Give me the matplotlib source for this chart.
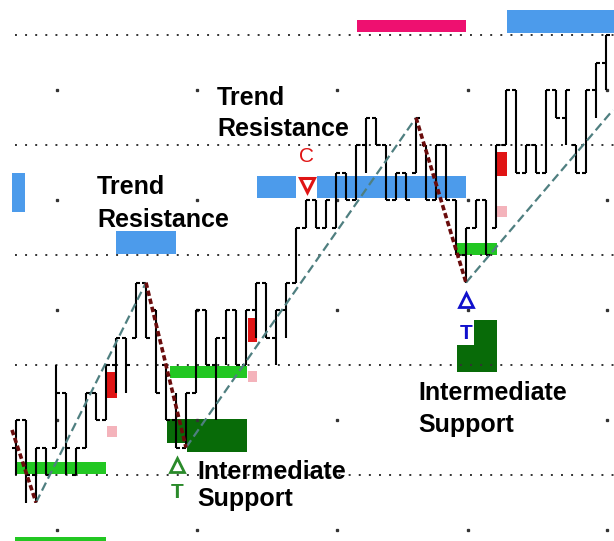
import numpy as np
import matplotlib.pyplot as plt
from matplotlib.patches import Rectangle

# OHLC bars (prices move in steps of 2.5)
highs = [15, 15, 12.5, 12.5, 20, 17.5, 12.5, 17.5, 17.5, 20,
         22.5, 22.5, 27.5, 27.5, 25, 20, 17.5, 17.5, 25, 25,
         22.5, 25, 25, 25, 27.5, 27.5, 25, 27.5, 32.5, 35,
         35, 35, 37.5, 37.5, 40, 42.5, 42.5, 40, 37.5, 37.5,
         42.5, 40, 40, 40, 35, 32.5, 35, 35, 40, 45,
         45, 40, 40, 45, 45, 45, 40, 45, 47.5, 50]
lows = [10, 7.5, 7.5, 10, 12.5, 10, 10, 12.5, 15, 15,
        17.5, 17.5, 22.5, 22.5, 17.5, 15, 12.5, 12.5, 17.5, 20,
        15, 20, 20, 20, 22.5, 22.5, 20, 22.5, 27.5, 32.5,
        32.5, 32.5, 32.5, 35, 35, 37.5, 40, 35, 35, 35,
        37.5, 35, 35, 35, 30, 27.5, 32.5, 30, 32.5, 40,
        37.5, 37.5, 37.5, 37.5, 42.5, 40, 37.5, 37.5, 42.5, 45]
opens = [12.5, 15, 10, 12.5, 12.5, 17.5, 10, 12.5, 17.5, 15,
         20, 22.5, 22.5, 27.5, 25, 20, 15, 12.5, 17.5, 25,
         20, 22.5, 25, 20, 25, 27.5, 22.5, 25, 27.5, 32.5,
         35, 32.5, 32.5, 37.5, 35, 40, 42.5, 40, 35, 37.5,
         37.5, 40, 35, 40, 35, 30, 32.5, 35, 32.5, 40,
         45, 37.5, 40, 37.5, 45, 42.5, 40, 37.5, 45, 47.5]
closes = [15, 10, 12.5, 10, 17.5, 12.5, 12.5, 17.5, 15, 20,
          22.5, 20, 27.5, 22.5, 17.5, 15, 12.5, 17.5, 25, 20,
          22.5, 25, 20, 25, 27.5, 22.5, 25, 27.5, 32.5, 35,
          32.5, 35, 37.5, 35, 40, 42.5, 40, 35, 37.5, 35,
          42.5, 35, 40, 35, 30, 32.5, 35, 30, 40, 45,
          37.5, 40, 37.5, 45, 42.5, 45, 37.5, 45, 47.5, 50]

# trend lines (bar index, price)
up_trends = [((2, 7.5), (13, 27.5)), ((17, 12.5), (40, 42.5)), ((45, 27.5), (59.7, 43.2))]
down_trends = [((-0.4, 14.1), (2, 7.5)), ((13, 27.5), (17, 12.5)), ((40, 42.5), (45, 27.5))]

# zones: (x0, x1, y0, y1)
blue_zones = [(49.1, 59.8, 50.2, 52.3), (-0.4, 0.9, 33.9, 37.5), (10, 16, 30.1, 32.2),
              (24.1, 28.0, 35.2, 37.2), (30.1, 45.0, 35.2, 37.2)]
magenta_zones = [(34.1, 45.0, 50.3, 51.4)]
green_zones = [(0.1, 9.0, 10.1, 11.2), (15.4, 23.1, 18.8, 19.9), (44.1, 48.1, 30.0, 31.1),
               (-0.1, 9.0, 3.9, 4.4)]
dkgreen_zones = [(15.1, 23.1, 12.9, 15.1), (17.1, 23.1, 12.1, 12.9), (44.1, 48.1, 19.4, 24.1)]
red_zones = [(9.1, 10.1, 17.0, 19.4), (23.2, 24.1, 22.1, 24.3), (48.1, 49.1, 37.2, 39.4)]
pink_zones = [(9.1, 10.1, 13.5, 14.5), (23.2, 24.1, 18.5, 19.5), (48.1, 49.1, 33.5, 34.5)]
zone_colors = [(blue_zones, '#4c9beb'), (magenta_zones, '#ee1070'), (green_zones, '#22c722'),
               (dkgreen_zones, '#086b08'), (red_zones, '#e01414'), (pink_zones, '#f4b3bb')]

grid_levels = [10, 20, 30, 40, 50]
vgrid_x = [4.1, 18.1, 32.1, 45.2, 59.1]
vgrid_y = [5, 15, 25, 35, 45]

fig = plt.figure(figsize=(6.14, 5.41), dpi=100)
ax = fig.add_axes([0, 0, 1, 1])
ax.set_xlim(-1.6, 59.8)
ax.set_ylim(4, 53.2)
ax.axis('off')

for zones, col in zone_colors:
    for x0, x1, y0, y1 in zones:
        ax.add_patch(Rectangle((x0, y0), x1 - x0, y1 - y0, color=col, lw=0, zorder=1))
# white gap under the blue T
ax.add_patch(Rectangle((44.1, 21.8), 1.7, 2.3, color='white', lw=0, zorder=1.5))

ax.hlines(grid_levels, -0.1, 59.8, colors='#333333', lw=1.4, linestyles=(0, (1, 4.2)), zorder=2)
for gx in vgrid_x:
    ax.plot([gx] * len(vgrid_y), vgrid_y, ls='none', marker='s', ms=1.4, color='#333333', zorder=2)

x = np.arange(len(highs))
ax.vlines(x, lows, highs, colors='black', lw=1.5, zorder=3)
ax.hlines(opens, x - 0.4, x, colors='black', lw=1.5, zorder=3)
ax.hlines(closes, x, x + 0.4, colors='black', lw=1.5, zorder=3)

for (x0, y0), (x1, y1) in up_trends:
    ax.plot([x0, x1], [y0, y1], color='#4f7f80', lw=1.6, ls=(0, (4, 2)), zorder=4)
for (x0, y0), (x1, y1) in down_trends:
    ax.plot([x0, x1], [y0, y1], color='#6a0c0c', lw=2.6, ls=(0, (1.5, 0.8)), zorder=4)

tfont = dict(family='Liberation Sans', weight='bold', size=18, color='black',
             va='top', ha='left', zorder=5)
ax.text(8.1, 37.25, 'Trend\nResistance', linespacing=1.45, **tfont)
ax.text(20.1, 45.4, 'Trend\nResistance', linespacing=1.38, **tfont)
ax.text(18.1, 11.4, 'Intermediate\nSupport', linespacing=1.2, **tfont)
ax.text(40.2, 18.55, 'Intermediate\nSupport', linespacing=1.4, **tfont)

ax.text(29.1, 39.0, 'C', family='Liberation Sans', size=15, color='#e01414',
        ha='center', va='center', zorder=5)
ax.plot(29.1, 36.4, marker='v', ms=9.5, mfc='white', mec='#e01414', mew=2.2, zorder=5)

ax.plot(16.1, 10.9, marker='^', ms=10, mfc='white', mec='#2a8a2a', mew=2, zorder=5)
ax.text(16.1, 8.4, 'T', family='Liberation Sans', weight='bold', size=15, color='#2a8a2a',
        ha='center', va='center', zorder=5)
ax.plot(45.0, 25.9, marker='^', ms=10, mfc='white', mec='#1010cc', mew=2, zorder=5)
ax.text(45.0, 22.9, 'T', family='Liberation Sans', weight='bold', size=15, color='#1010cc',
        ha='center', va='center', zorder=5)

fig.savefig('out.png', dpi=100)
